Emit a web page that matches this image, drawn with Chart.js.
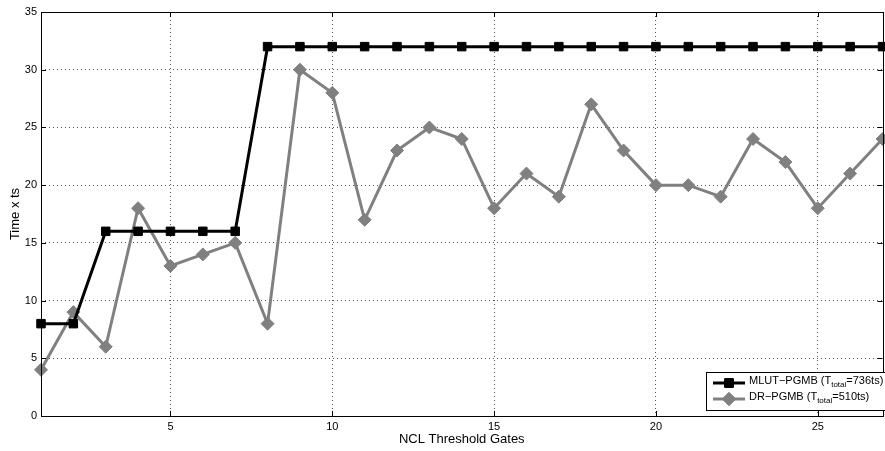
<!DOCTYPE html>
<html>
<head>
<meta charset="utf-8">
<script src="https://cdn.jsdelivr.net/npm/chart.js@4/dist/chart.umd.min.js"></script>
<style>
  html, body { margin: 0; padding: 0; background: #fff; overflow: hidden; }
  #chart { display: block; }
</style>
</head>
<body>
<canvas id="chart" width="890" height="451" style="width:890px;height:451px"></canvas>
<script>
// gate index on the x axis
const gates = [1, 2, 3, 4, 5, 6, 7, 8, 9, 10, 11, 12, 13, 14, 15, 16, 17, 18, 19, 20, 21, 22, 23, 24, 25, 26, 27];

// time per gate (x ts)
const mlutTimes = [8, 8, 16, 16, 16, 16, 16, 32, 32, 32, 32, 32, 32, 32, 32, 32, 32, 32, 32, 32, 32, 32, 32, 32, 32, 32, 32];
const drTimes = [4, 9, 6, 18, 13, 14, 15, 8, 30, 28, 17, 23, 25, 24, 18, 21, 19, 27, 23, 20, 20, 19, 24, 22, 18, 21, 24];

const xTicks = [5, 10, 15, 20, 25];
const yTicks = [0, 5, 10, 15, 20, 25, 30, 35];

const seriesNames = ['MLUT\u2212PGMB', 'DR\u2212PGMB'];
const seriesTotals = ['=736ts)', '=510ts)'];

const BLACK = '#000000';
const GREY = '#808080';
const FONT = '"Liberation Sans", Arial, Helvetica, sans-serif';

Chart.defaults.font.family = FONT;
Chart.defaults.font.size = 11;
Chart.defaults.color = '#000';

const toPoints = (vals) => gates.map((g, i) => ({ x: g, y: vals[i] }));

// box, inward ticks, axis titles and legend (MATLAB style)
const matlabFrame = {
  id: 'matlabFrame',
  afterDraw(chart) {
    const { ctx, chartArea: a, scales } = chart;
    ctx.save();
    ctx.strokeStyle = '#000';
    ctx.lineWidth = 1;
    ctx.setLineDash([]);
    ctx.strokeRect(Math.round(a.left) + 0.5, Math.round(a.top) + 0.5,
      Math.round(a.right - a.left), Math.round(a.bottom - a.top));

    const tl = 5;
    ctx.beginPath();
    xTicks.forEach(v => {
      const px = Math.round(scales.x.getPixelForValue(v)) + 0.5;
      ctx.moveTo(px, a.bottom); ctx.lineTo(px, a.bottom - tl);
      ctx.moveTo(px, a.top); ctx.lineTo(px, a.top + tl);
    });
    yTicks.forEach(v => {
      const py = Math.round(scales.y.getPixelForValue(v)) + 0.5;
      ctx.moveTo(a.left, py); ctx.lineTo(a.left + tl, py);
      ctx.moveTo(a.right, py); ctx.lineTo(a.right - tl, py);
    });
    ctx.stroke();

    // axis titles
    ctx.fillStyle = '#000';
    ctx.font = '13px ' + FONT;
    ctx.textAlign = 'center';
    ctx.textBaseline = 'middle';
    ctx.fillText('NCL Threshold Gates', (a.left + a.right) / 2, 439);
    ctx.save();
    ctx.translate(15, (a.top + a.bottom) / 2);
    ctx.rotate(-Math.PI / 2);
    ctx.fillText('Time x ts', 0, 0);
    ctx.restore();

    // legend
    const lx = 706.5, ly = 372.5, lw = 180, lh = 38;
    ctx.fillStyle = '#fff';
    ctx.fillRect(lx, ly, lw, lh);
    ctx.strokeStyle = '#000';
    ctx.strokeRect(lx, ly, lw, lh);
    const rows = [383, 399];
    const colors = [BLACK, GREY];
    const styles = ['rect', 'rectRot'];
    rows.forEach((ry, i) => {
      ctx.strokeStyle = colors[i];
      ctx.lineWidth = 3;
      ctx.beginPath();
      ctx.moveTo(713, ry); ctx.lineTo(745, ry);
      ctx.stroke();
      ctx.fillStyle = colors[i];
      ctx.lineWidth = 1;
      Chart.helpers.drawPoint(ctx, { pointStyle: styles[i], radius: i ? 6.5 : 6, borderWidth: 1 }, 729, ry);
      ctx.fill();
      ctx.stroke();

      ctx.fillStyle = '#000';
      ctx.textAlign = 'left';
      ctx.textBaseline = 'middle';
      ctx.font = '11px ' + FONT;
      let tx = 749;
      const head = seriesNames[i] + ' (T';
      ctx.fillText(head, tx, ry - 2);
      tx += ctx.measureText(head).width;
      ctx.font = '8px ' + FONT;
      ctx.fillText('total', tx, ry + 2);
      tx += ctx.measureText('total').width;
      ctx.font = '11px ' + FONT;
      ctx.fillText(seriesTotals[i], tx, ry - 2);
    });
    ctx.restore();
  }
};

new Chart(document.getElementById('chart').getContext('2d'), {
  type: 'line',
  data: {
    datasets: [
      {
        label: seriesNames[0],
        data: toPoints(mlutTimes),
        borderColor: BLACK,
        backgroundColor: BLACK,
        borderWidth: 3,
        pointStyle: 'rect',
        pointRadius: 6,
        pointBorderWidth: 1,
        tension: 0
      },
      {
        label: seriesNames[1],
        data: toPoints(drTimes),
        borderColor: GREY,
        backgroundColor: GREY,
        borderWidth: 3,
        pointStyle: 'rectRot',
        pointRadius: 6.5,
        pointBorderWidth: 1,
        tension: 0
      }
    ]
  },
  options: {
    responsive: false,
    animation: false,
    devicePixelRatio: 1,
    clip: false,
    layout: { padding: { top: 12, right: 2, left: 0, bottom: 0 } },
    plugins: { legend: { display: false }, tooltip: { enabled: false } },
    scales: {
      x: {
        type: 'linear',
        min: 1,
        max: 27,
        afterBuildTicks: (s) => { s.ticks = xTicks.map(v => ({ value: v })); },
        afterFit: (s) => { s.height = 35; },
        grid: { color: '#555', lineWidth: 1, drawTicks: false },
        border: { display: false, dash: [1, 3] },
        ticks: { padding: 4, font: { size: 11 }, color: '#000', maxRotation: 0 }
      },
      y: {
        min: 0,
        max: 35,
        afterBuildTicks: (s) => { s.ticks = yTicks.map(v => ({ value: v })); },
        afterFit: (s) => { s.width = 41; },
        grid: { color: '#555', lineWidth: 1, drawTicks: false },
        border: { display: false, dash: [1, 3] },
        ticks: { padding: 4, font: { size: 11 }, color: '#000' }
      }
    }
  },
  plugins: [matlabFrame]
});
</script>
</body>
</html>
